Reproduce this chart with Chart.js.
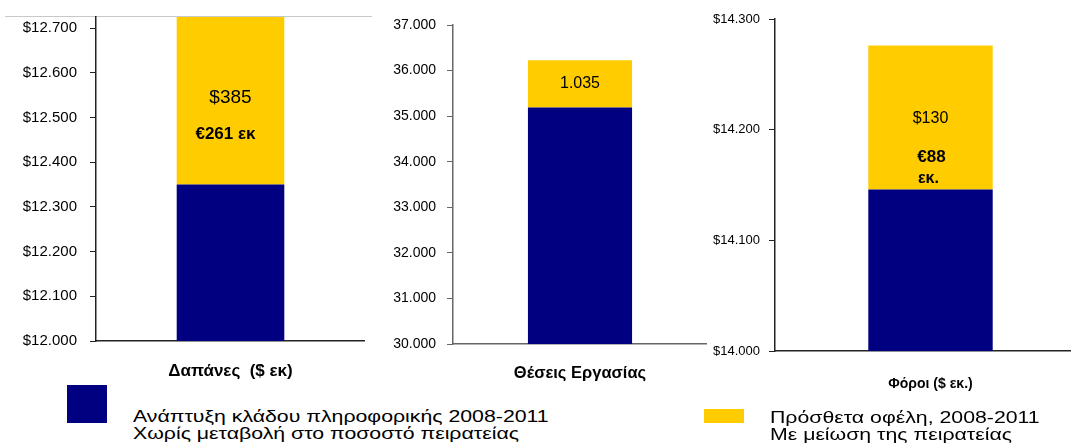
<!DOCTYPE html>
<html lang="el">
<head>
<meta charset="utf-8">
<script src="https://cdn.jsdelivr.net/npm/chart.js@4"></script>
<style>
  body{margin:0;width:1071px;height:447px;overflow:hidden;background:#fff;position:relative;
       font-family:"Liberation Sans",Arial,sans-serif;color:#000}
  canvas{position:absolute;top:0}
  .topline{position:absolute;left:5px;top:16px;width:367px;height:1px;background:#c8c8c8}
  .sw{position:absolute}
  .txt{position:absolute;font-size:16px;line-height:17px;white-space:nowrap;
       transform:scaleX(1.33);transform-origin:0 0}
</style>
</head>
<body>
<div class="topline"></div>
<canvas id="c1" width="365" height="400" style="left:0"></canvas>
<canvas id="c2" width="347" height="400" style="left:360px"></canvas>
<canvas id="c3" width="386" height="400" style="left:700px"></canvas>

<div class="sw" style="left:67px;top:385px;width:40px;height:38px;background:#000080"></div>
<div class="txt" style="left:133px;top:408px">Ανάπτυξη κλάδου πληροφορικής 2008-2011<br>Χωρίς μεταβολή στο ποσοστό πειρατείας</div>
<div class="sw" style="left:704px;top:409px;width:40px;height:14px;background:#FFCC00"></div>
<div class="txt" style="left:770px;top:409px">Πρόσθετα οφέλη, 2008-2011<br>Με μείωση της πειρατείας</div>

<script>
// Δεδομένα - Δαπάνες
const spendLabels = ['Δαπάνες  ($ εκ)'];
const spendBase = [12350];
const spendExtra = [385];
const spendEuro = ['€261 εκ'];
const spendTicks = [12000, 12100, 12200, 12300, 12400, 12500, 12600, 12700];

// Δεδομένα - Θέσεις εργασίας
const jobLabels = ['Θέσεις Εργασίας'];
const jobBase = [35190];
const jobExtra = [1035];
const jobTicks = [30000, 31000, 32000, 33000, 34000, 35000, 36000, 37000];

// Δεδομένα - Φόροι
const taxLabels = ['Φόροι ($ εκ.)'];
const taxBase = [14146];
const taxExtra = [130];
const taxEuro = ['€88', 'εκ.'];
const taxTicks = [14000, 14100, 14200, 14300];

const navy = '#000080';
const gold = '#FFCC00';

// 12700 -> "12.700"
function dots(v){
  return String(v).replace(/\B(?=(\d{3})+(?!\d))/g, '.');
}

// κείμενα μέσα στο κίτρινο κομμάτι
const barText = {
  id: 'barText',
  afterDatasetsDraw(chart, args, opts){
    const bar = chart.getDatasetMeta(1).data[0];
    const top = Math.max(bar.y, chart.chartArea.top);
    const mid = (top + bar.base) / 2;
    const ctx = chart.ctx;
    ctx.save();
    ctx.textAlign = 'center';
    ctx.textBaseline = 'middle';
    ctx.fillStyle = '#000';
    opts.lines.forEach(l => {
      ctx.font = l.font;
      ctx.fillText(l.text, bar.x + (l.dx || 0), mid + l.dy);
    });
    ctx.restore();
  }
};

function makeChart(id, o){
  const canvas = document.getElementById(id);
  return new Chart(canvas, {
    type: 'bar',
    data: {
      labels: o.labels,
      datasets: [
        { data: o.base, backgroundColor: navy, barPercentage: o.bar, categoryPercentage: 1 },
        { data: o.extra, backgroundColor: gold, barPercentage: o.bar, categoryPercentage: 1 }
      ]
    },
    options: {
      responsive: false,
      animation: false,
      layout: { padding: { top: o.top, left: 0, right: 0, bottom: 0 } },
      plugins: {
        legend: { display: false },
        tooltip: { enabled: false },
        barText: { lines: o.lines }
      },
      scales: {
        x: {
          stacked: true,
          grid: { display: false },
          border: { display: true, color: o.axis, width: 1.5 },
          ticks: { color: '#000', font: o.catFont, padding: o.catPad },
          afterFit: s => { s.height = canvas.height - o.bottom; }
        },
        y: {
          stacked: true,
          min: o.ticks[0],
          max: o.max,
          grid: { drawOnChartArea: false, drawTicks: true, tickLength: 6, color: o.axis },
          border: { display: true, color: o.axis, width: 1.5 },
          afterBuildTicks: s => { s.ticks = o.ticks.map(v => ({ value: v })); },
          ticks: {
            color: '#000',
            font: o.tickFont,
            padding: o.tickPad,
            callback: v => o.prefix + dots(v)
          },
          // σταθερό πλάτος άξονα, χωρίς αυτόματο περιθώριο πάνω/κάτω
          afterFit: s => { s.width = o.axisX; s.paddingTop = 0; s.paddingBottom = 0; }
        }
      }
    },
    plugins: [barText]
  });
}

makeChart('c1', {
  labels: spendLabels, base: spendBase, extra: spendExtra, ticks: spendTicks,
  max: 12725, prefix: '$', top: 17, bottom: 341, axisX: 96, bar: 0.40, axis: '#222',
  tickFont: { family: 'Liberation Sans', size: 15 }, tickPad: 13,
  catFont: { family: 'Liberation Sans', size: 17, weight: 'bold' }, catPad: 12,
  lines: [
    { text: '$' + spendExtra[0], font: '19px "Liberation Sans"', dy: -3 },
    { text: spendEuro[0], font: 'bold 17px "Liberation Sans"', dy: 34, dx: -5 }
  ]
});

makeChart('c2', {
  labels: jobLabels, base: jobBase, extra: jobExtra, ticks: jobTicks,
  max: 37000, prefix: '', top: 25, bottom: 344, axisX: 93, bar: 0.41, axis: '#666',
  tickFont: { family: 'Liberation Sans', size: 14 }, tickPad: 11,
  catFont: { family: 'Liberation Sans', size: 16.5, weight: 'bold' }, catPad: 12,
  lines: [
    { text: dots(jobExtra[0]), font: '16px "Liberation Sans"', dy: 0 }
  ]
});

makeChart('c3', {
  labels: taxLabels, base: taxBase, extra: taxExtra, ticks: taxTicks,
  max: 14300, prefix: '$', top: 19, bottom: 351, axisX: 75, bar: 0.40, axis: '#222',
  tickFont: { family: 'Liberation Sans', size: 13 }, tickPad: 9,
  catFont: { family: 'Liberation Sans', size: 14, weight: 'bold' }, catPad: 17,
  lines: [
    { text: '$' + taxExtra[0], font: '16px "Liberation Sans"', dy: 1 },
    { text: taxEuro[0], font: 'bold 17px "Liberation Sans"', dy: 40, dx: 1 },
    { text: taxEuro[1], font: 'bold 16px "Liberation Sans"', dy: 61, dx: -2 }
  ]
});
</script>
</body>
</html>
